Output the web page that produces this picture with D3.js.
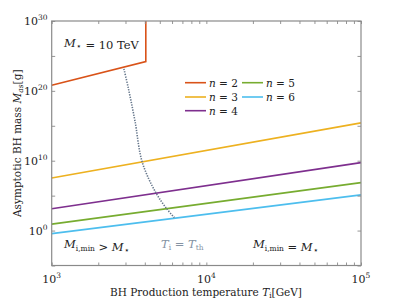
<!DOCTYPE html>
<html><head><meta charset="utf-8">
<script src="https://cdn.jsdelivr.net/npm/d3@7"></script>
<style>
body{margin:0;background:#fff;}
</style></head>
<body><svg id="c" width="399" height="299"></svg>
<script>
// ---- data ----
const nValues = [2, 3, 4, 5, 6];
const colors = ["#D95319", "#EDB120", "#7E2F8E", "#77AC30", "#4DBEEE"];
const tempN2 = [1e3, 4060, 4060];
const massN2 = [6.3e20, 1.55e24, 1e30];
const tempLine = [1e3, 1e5];
const massN3 = [3.3e7, 2.6e15];
const massN4 = [1.35e3, 5.4e9];
const massN5 = [8.3, 7.4e6];
const massN6 = [0.37, 1.3e5];
const thTemp = [2930, 3130, 3460, 3850, 4720, 5550, 6210];
const thMass = [1.4e23, 2.4e20, 4e15, 6.2e9, 2.5e5, 1.3e3, 72];
const xTickExp = [3, 4, 5];
const yTickExp = [0, 10, 20, 30];

const svg = d3.select("#c");
const FF = "'DejaVu Serif', serif";
const L = 51.7, R = 361, T = 21, B = 265.5;
const x = d3.scaleLog().domain([1e3, 1e5]).range([L, R]);
const y = d3.scaleLog().domain([1e-5, 1e30]).range([B, T]);
const axisCol = "#8a8a8a";

function txt(xp, yp, size, col) {
  return svg.append("text").attr("x", xp).attr("y", yp).attr("font-size", size)
    .attr("fill", col || "#222").style("font-family", FF);
}

// series
const seriesList = [
  {t: tempN2, m: massN2},
  {t: tempLine, m: massN3},
  {t: tempLine, m: massN4},
  {t: tempLine, m: massN5},
  {t: tempLine, m: massN6}
];
const line = d3.line().x(d => x(d[0])).y(d => y(d[1]));
const g = svg.append("g");
seriesList.forEach((s, i) => {
  g.append("path").attr("d", line(d3.zip(s.t, s.m)))
    .attr("fill", "none").attr("stroke", colors[i]).attr("stroke-width", 1.6);
});
// threshold dotted curve
g.append("path")
  .attr("d", d3.line().curve(d3.curveCatmullRom).x(d => x(d[0])).y(d => y(d[1]))(d3.zip(thTemp, thMass)))
  .attr("fill", "none").attr("stroke", "#64758a").attr("stroke-width", 1.6)
  .attr("stroke-dasharray", "1.3,1.3");

// axes box
const ax = svg.append("g");
const xMinor = [];
for (let e = 3; e < 5; e++) for (let k = 2; k <= 9; k++) xMinor.push(k * Math.pow(10, e));
const xMajor = xTickExp.map(e => Math.pow(10, e));
ax.append("g").attr("transform", `translate(0,${B})`)
  .call(d3.axisBottom(x).tickValues(xMajor.concat(xMinor)).tickSize(-3).tickFormat(""));
ax.append("g").attr("transform", `translate(0,${T})`)
  .call(d3.axisTop(x).tickValues(xMajor.concat(xMinor)).tickSize(-3).tickFormat(""));
const yTicks = d3.range(-5, 31, 5).map(e => Math.pow(10, e));
ax.append("g").attr("transform", `translate(${L},0)`)
  .call(d3.axisLeft(y).tickValues(yTicks).tickSize(-3.5).tickFormat(""));
ax.append("g").attr("transform", `translate(${R},0)`)
  .call(d3.axisRight(y).tickValues(yTicks).tickSize(-3.5).tickFormat(""));
ax.selectAll(".domain").remove();
ax.selectAll(".tick line").attr("stroke", axisCol).attr("stroke-width", 0.9);
svg.append("rect").attr("x", L).attr("y", T).attr("width", R - L).attr("height", B - T)
  .attr("fill", "none").attr("stroke", axisCol).attr("stroke-width", 1.2);

// tick labels
xTickExp.forEach(e => {
  const t = txt(x(Math.pow(10, e)), 283, 11).attr("text-anchor", "middle");
  t.append("tspan").text("10");
  t.append("tspan").attr("dy", -5).attr("font-size", 7.5).text(e);
});
yTickExp.forEach(e => {
  const t = txt(47.5, y(Math.pow(10, e)) + 4, 11).attr("text-anchor", "end");
  t.append("tspan").text("10");
  t.append("tspan").attr("dy", -5).attr("font-size", 7.5).text(e);
});

// axis titles
const xl = txt(206, 296, 10.5).attr("text-anchor", "middle");
xl.append("tspan").text("BH Production temperature ");
xl.append("tspan").attr("font-style", "italic").text("T");
xl.append("tspan").attr("font-size", 7.5).attr("dy", 2).text("i");
xl.append("tspan").attr("dy", -2).text("[GeV]");

const yl = svg.append("text").attr("transform", `translate(21,${(T + B) / 2}) rotate(-90)`)
  .attr("text-anchor", "middle").attr("font-size", 10.5).attr("fill", "#222").style("font-family", FF);
yl.append("tspan").text("Asymptotic BH mass ");
yl.append("tspan").attr("font-style", "italic").text("M");
yl.append("tspan").attr("font-size", 7.5).attr("dy", 2).attr("font-style", "italic").text("as");
yl.append("tspan").attr("dy", -2).text("[g]");

// annotations
function mstar(sel) {
  sel.append("tspan").attr("font-style", "italic").text("M");
  sel.append("tspan").attr("font-size", 8.5).attr("dy", 2).text("⋆");
  sel.append("tspan").attr("dy", -2).text("");
}
const a1 = txt(64, 47, 11.5);
mstar(a1); a1.append("tspan").text(" = 10 TeV");

function mimin(sel) {
  sel.append("tspan").attr("font-style", "italic").text("M");
  sel.append("tspan").attr("font-size", 7.5).attr("dy", 2.5).text("i,min");
  sel.append("tspan").attr("dy", -2.5).text("");
}
const a2 = txt(64, 248, 11.5);
mimin(a2); a2.append("tspan").text(" > "); mstar(a2);

const a3 = txt(253, 248, 11.5);
mimin(a3); a3.append("tspan").text(" = "); mstar(a3);

const a4 = txt(161, 248, 11.5, "#8593a3");
a4.append("tspan").attr("font-style", "italic").text("T");
a4.append("tspan").attr("font-size", 7.5).attr("dy", 2).text("i");
a4.append("tspan").attr("dy", -2).text(" = ");
a4.append("tspan").attr("font-style", "italic").text("T");
a4.append("tspan").attr("font-size", 7.5).attr("dy", 2).text("th");

// legend
const legPos = [[185, 82.7], [185, 97], [185, 110.7], [242, 82.7], [242, 97]];
nValues.forEach((n, i) => {
  const [lx, ly] = legPos[i];
  svg.append("line").attr("x1", lx).attr("x2", lx + 21).attr("y1", ly).attr("y2", ly)
    .attr("stroke", colors[i]).attr("stroke-width", 1.6);
  const t = txt(lx + 24, ly + 4, 10.5);
  t.append("tspan").attr("font-style", "italic").text("n");
  t.append("tspan").text(" = " + n);
});
</script></body></html>
